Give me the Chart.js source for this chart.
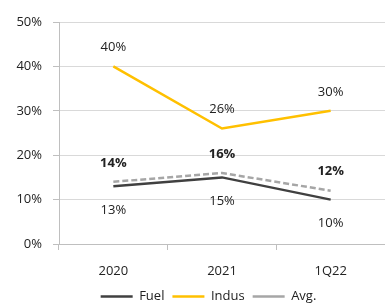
<!DOCTYPE html>
<html>
<head>
<meta charset="utf-8">
<script src="https://cdn.jsdelivr.net/npm/chart.js@4"></script>
<style>
  html, body { margin: 0; padding: 0; background: #fff; }
  #wrap { width: 385px; height: 304px; }
</style>
</head>
<body>
<div id="wrap"><canvas id="chart"></canvas></div>
<script>
const categories = ['2020', '2021', '1Q22'];
const fuel = [13, 15, 10];
const indus = [40, 26, 30];
const avg = [14, 16, 12];
const yTicks = [0, 10, 20, 30, 40, 50];

const FONT = "'Open Sans', 'DejaVu Sans', sans-serif";

// simple value labels: above / below each point
const valueLabels = {
    id: 'valueLabels',
    afterDatasetsDraw(chart) {
        const ctx = chart.ctx;
        chart.data.datasets.forEach((ds, i) => {
            const meta = chart.getDatasetMeta(i);
            const opt = ds.labelOpts;
            meta.data.forEach((pt, j) => {
                ctx.save();
                ctx.font = (opt.bold ? 'bold ' : '') + '13px ' + FONT;
                ctx.fillStyle = '#222';
                ctx.textAlign = 'center';
                ctx.textBaseline = 'middle';
                ctx.fillText(ds.data[j] + '%', pt.x, pt.y + opt.dy);
                ctx.restore();
            });
        });
    }
};

// nudge legend a bit right, as in the reference
const legendShift = {
    id: 'legendShift',
    afterLayout(chart) {
        chart.legend.left += 13;
        chart.legend.right += 13;
    }
};

const ctx = document.getElementById('chart').getContext('2d');
new Chart(ctx, {
    type: 'line',
    data: {
        labels: categories,
        datasets: [
            { label: 'Fuel', data: fuel, borderColor: '#404040', backgroundColor: '#404040',
              borderWidth: 2.5, pointRadius: 0, tension: 0, labelOpts: { dy: 24, bold: false } },
            { label: 'Indus', data: indus, borderColor: '#FFC000', backgroundColor: '#FFC000',
              borderWidth: 2.5, pointRadius: 0, tension: 0, labelOpts: { dy: -19, bold: false } },
            { label: 'Avg.', data: avg, borderColor: '#A6A6A6', backgroundColor: '#A6A6A6',
              borderWidth: 2.5, borderDash: [6, 3], pointRadius: 0, tension: 0, labelOpts: { dy: -19, bold: true } }
        ]
    },
    options: {
        responsive: true,
        maintainAspectRatio: false,
        animation: false,
        layout: { padding: { top: 22, right: -6, left: 0, bottom: -2 } },
        scales: {
            x: {
                offset: true,
                afterFit: (axis) => { axis.height = 38; },
                grid: { display: true, drawOnChartArea: false, offset: true, tickLength: 6, color: '#bfbfbf' },
                border: { color: '#bfbfbf' },
                ticks: { color: '#222', font: { family: FONT, size: 13 }, padding: 13 }
            },
            y: {
                min: 0, max: 50,
                afterBuildTicks: (axis) => { axis.ticks = yTicks.map(v => ({ value: v })); },
                afterFit: (axis) => { axis.width = 59; },
                grid: { color: '#d9d9d9', tickLength: 6, tickColor: '#bfbfbf' },
                border: { color: '#bfbfbf' },
                ticks: { color: '#222', font: { family: FONT, size: 13 }, padding: 11,
                         callback: v => v + '%' }
            }
        },
        plugins: {
            legend: {
                position: 'bottom',
                maxHeight: 24,
                labels: {
                    usePointStyle: true, pointStyle: 'line', pointStyleWidth: 32,
                    color: '#222', font: { family: FONT, size: 13 }, padding: 8, boxHeight: 8
                }
            },
            tooltip: { enabled: false }
        }
    },
    plugins: [valueLabels, legendShift]
});
</script>
</body>
</html>
